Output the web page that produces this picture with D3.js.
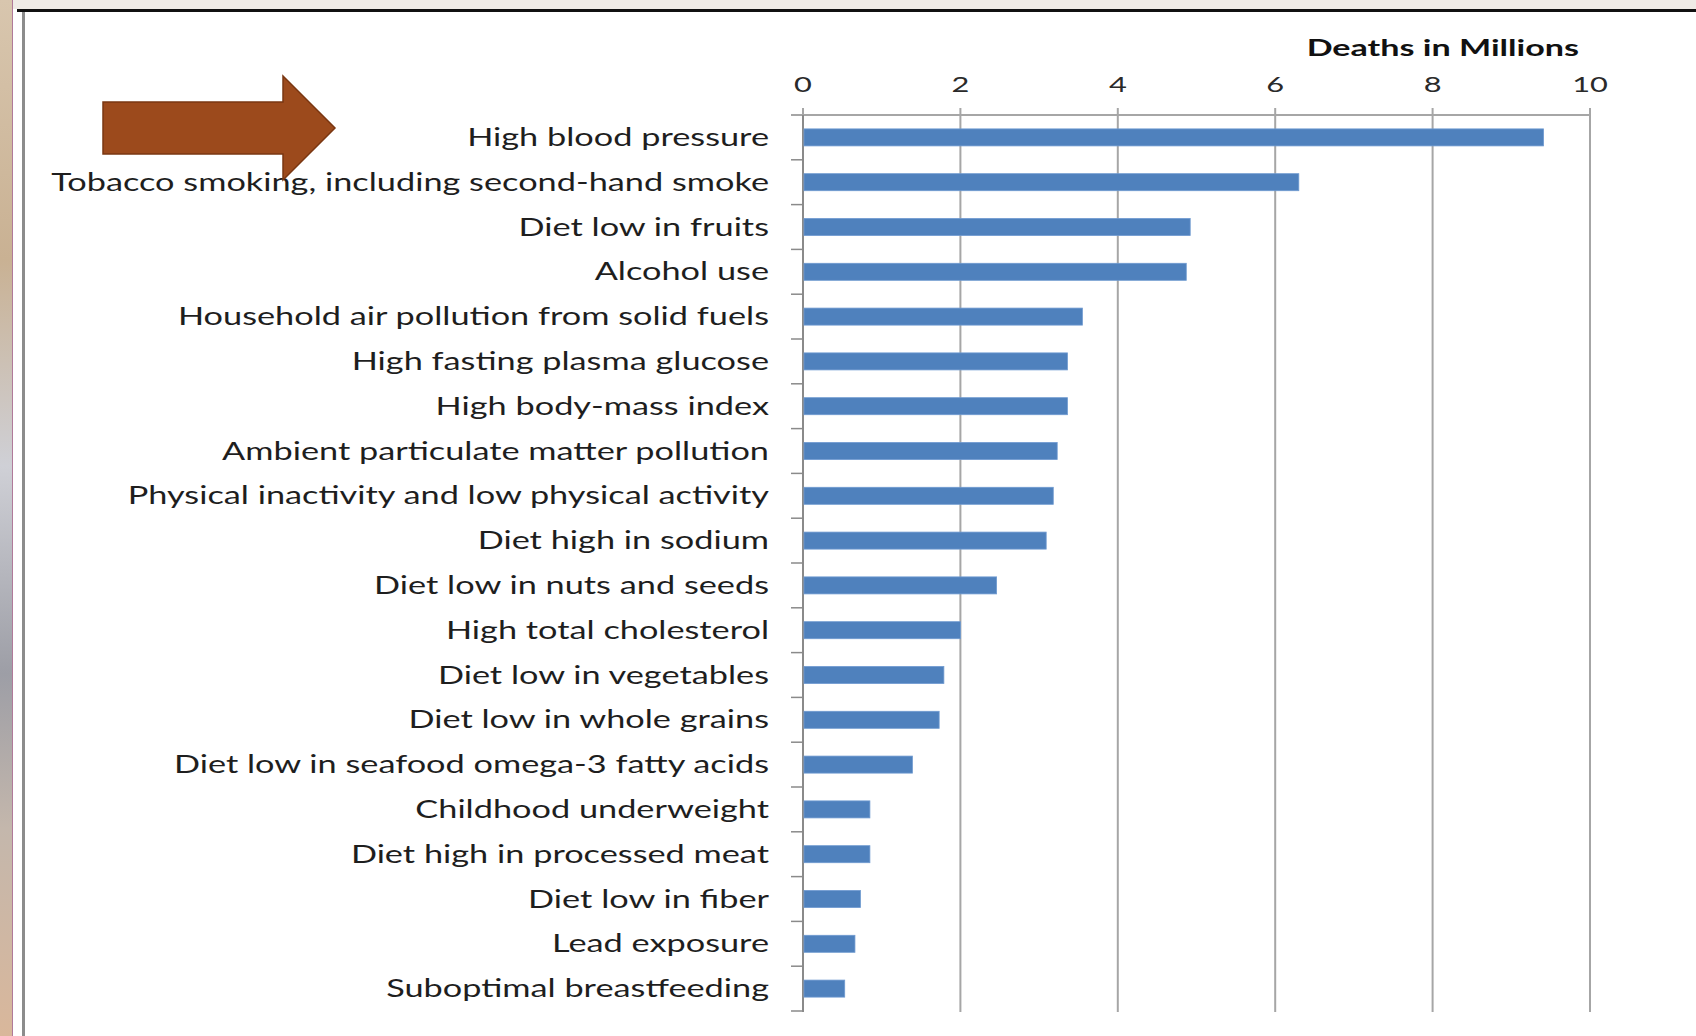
<!DOCTYPE html>
<html>
<head>
<meta charset="utf-8">
<script src="https://cdn.jsdelivr.net/npm/d3@7"></script>
<style>
  html, body { margin: 0; padding: 0; background: #fff; }
  svg { display: block; }
</style>
</head>
<body>
<svg id="chart"></svg>
<script>
// Risk factors, top to bottom
const riskFactors = [
    "High blood pressure",
    "Tobacco smoking, including second-hand smoke",
    "Diet low in fruits",
    "Alcohol use",
    "Household air pollution from solid fuels",
    "High fasting plasma glucose",
    "High body-mass index",
    "Ambient particulate matter pollution",
    "Physical inactivity and low physical activity",
    "Diet high in sodium",
    "Diet low in nuts and seeds",
    "High total cholesterol",
    "Diet low in vegetables",
    "Diet low in whole grains",
    "Diet low in seafood omega-3 fatty acids",
    "Childhood underweight",
    "Diet high in processed meat",
    "Diet low in fiber",
    "Lead exposure",
    "Suboptimal breastfeeding"
];

// deaths in millions
const deaths = [9.41, 6.30, 4.92, 4.87, 3.55, 3.36, 3.36, 3.23, 3.18, 3.09,
    2.46, 2.00, 1.79, 1.73, 1.39, 0.85, 0.85, 0.73, 0.66, 0.53];

const xTicks = [0, 2, 4, 6, 8, 10];
const axisTitle = "Deaths in Millions";

// Configuration
const width = 1696;
const height = 1036;
const plotLeft = 803;
const plotRight = 1590;
const plotTop = 115;
const plotBottom = 1011;
const labelRight = 769;
const labelStretch = 1.40;   // text in the slide is widened
const tickStretch = 1.40;
const titleStretch = 1.55;
const barColor = "#4f81bd";
const gridColor = "#a6a6a6";

function drawChart() {
    const svg = d3.select('#chart')
        .attr('width', width)
        .attr('height', height);

    const defs = svg.append('defs');
    const bgGrad = defs.append('linearGradient')
        .attr('id', 'leftStrip')
        .attr('x1', 0).attr('y1', 0).attr('x2', 0).attr('y2', 1);
    [[0, '#d8c6ae'], [0.25, '#c9b193'], [0.45, '#cfd0d6'], [0.65, '#9d9ea6'],
     [0.8, '#c4b7ac'], [1, '#d9b79b']].forEach(s => {
        bgGrad.append('stop').attr('offset', s[0]).attr('stop-color', s[1]);
    });

    // slide background showing around the frame
    svg.append('rect')
        .attr('width', width).attr('height', height)
        .attr('fill', '#ffffff');
    svg.append('rect')
        .attr('x', 0).attr('y', 0)
        .attr('width', width).attr('height', 9)
        .attr('fill', '#efebe6');
    svg.append('rect')
        .attr('x', 0).attr('y', 0)
        .attr('width', 12).attr('height', height)
        .attr('fill', 'url(#leftStrip)');
    svg.append('line')
        .attr('x1', 12.5).attr('x2', 12.5)
        .attr('y1', 0).attr('y2', height)
        .attr('stroke', '#b07a9a').attr('stroke-width', 1);
    svg.append('line')
        .attr('x1', 17).attr('x2', width)
        .attr('y1', 10.5).attr('y2', 10.5)
        .attr('stroke', '#111').attr('stroke-width', 3);
    svg.append('line')
        .attr('x1', 23.5).attr('x2', 23.5)
        .attr('y1', 12).attr('y2', height)
        .attr('stroke', '#8c8c8c').attr('stroke-width', 3);

    // Scales
    const x = d3.scaleLinear()
        .domain([0, 10])
        .range([plotLeft, plotRight]);

    const y = d3.scaleBand()
        .domain(riskFactors)
        .range([plotTop, plotBottom])
        .paddingInner(0.62)
        .paddingOuter(0.31);

    const step = y.step();
    const g = svg.append('g');

    // vertical gridlines with short ticks above the axis
    g.selectAll('.grid')
        .data(xTicks)
        .enter()
        .append('line')
        .attr('class', 'grid')
        .attr('x1', d => x(d)).attr('x2', d => x(d))
        .attr('y1', plotTop - 7).attr('y2', plotBottom + 1)
        .attr('stroke', gridColor)
        .attr('stroke-width', 2);

    // value axis line along the top
    g.append('line')
        .attr('x1', plotLeft - 12).attr('x2', plotRight)
        .attr('y1', plotTop).attr('y2', plotTop)
        .attr('stroke', gridColor)
        .attr('stroke-width', 2);

    // category axis line + tick marks at band boundaries
    g.append('line')
        .attr('x1', plotLeft).attr('x2', plotLeft)
        .attr('y1', plotTop).attr('y2', plotBottom + 1)
        .attr('stroke', '#8a8a8a')
        .attr('stroke-width', 2);

    const boundaries = riskFactors.map((d, i) => i + 1);
    g.selectAll('.ctick')
        .data(boundaries)
        .enter()
        .append('line')
        .attr('class', 'ctick')
        .attr('x1', plotLeft - 12).attr('x2', plotLeft)
        .attr('y1', d => plotTop + d * step)
        .attr('y2', d => plotTop + d * step)
        .attr('stroke', '#8a8a8a')
        .attr('stroke-width', 1.5);

    // Bars
    g.selectAll('.bar')
        .data(riskFactors)
        .enter()
        .append('rect')
        .attr('class', 'bar')
        .attr('x', x(0) + 1)
        .attr('y', d => y(d))
        .attr('width', (d, i) => x(deaths[i]) - x(0) - 1)
        .attr('height', y.bandwidth())
        .attr('fill', barColor)
        .attr('stroke', '#6f9ad0')
        .attr('stroke-width', 0.8);

    // Category labels
    g.selectAll('.label')
        .data(riskFactors)
        .enter()
        .append('text')
        .attr('class', 'label')
        .attr('transform', d => `translate(${labelRight}, ${y(d) + y.bandwidth() / 2 + 8.5}) scale(${labelStretch}, 1)`)
        .attr('text-anchor', 'end')
        .attr('font-family', 'Lato, sans-serif')
        .attr('font-size', 24.5)
        .attr('fill', '#1e1e1e')
        .text(d => d);

    // Tick labels
    g.selectAll('.tlabel')
        .data(xTicks)
        .enter()
        .append('text')
        .attr('class', 'tlabel')
        .attr('transform', d => `translate(${x(d)}, 92) scale(${tickStretch}, 1)`)
        .attr('text-anchor', 'middle')
        .attr('font-family', 'Lato, sans-serif')
        .attr('font-size', 22)
        .attr('fill', '#2a2a2a')
        .text(d => d);

    // Axis title
    g.append('text')
        .attr('transform', `translate(1579, 56) scale(${titleStretch}, 1)`)
        .attr('text-anchor', 'end')
        .attr('font-family', 'Lato, sans-serif')
        .attr('font-weight', 'bold')
        .attr('font-size', 22)
        .attr('fill', '#111')
        .text(axisTitle);

    // Brown arrow pointing at the top bar
    const arrow = [
        [103, 102], [283, 102], [283, 76], [335, 128],
        [283, 180], [283, 154], [103, 154]
    ];
    svg.append('path')
        .attr('d', d3.line()(arrow) + 'Z')
        .attr('fill', '#9c4a1c')
        .attr('stroke', '#7a3712')
        .attr('stroke-width', 1.5)
        .attr('stroke-linejoin', 'miter');
}

drawChart();
</script>
</body>
</html>
